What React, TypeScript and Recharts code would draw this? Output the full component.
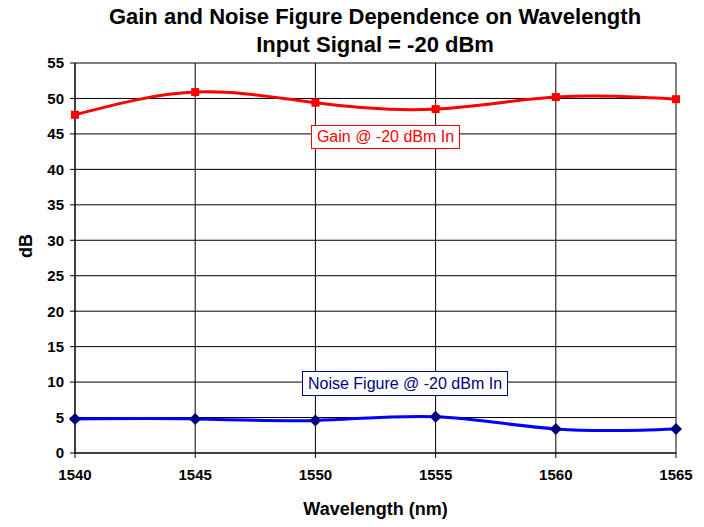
import { LineChart, Line, XAxis, YAxis, CartesianGrid } from 'recharts';

const wavelengths = [1540, 1545, 1550, 1555, 1560, 1565];
const gainValues = [47.7, 50.9, 49.4, 48.5, 50.2, 49.9];
const noiseValues = [4.8, 4.8, 4.6, 5.1, 3.4, 3.4];
const yTicks = [0, 5, 10, 15, 20, 25, 30, 35, 40, 45, 50, 55];

const data = wavelengths.map((w, i) => ({
  wavelength: w,
  gain: gainValues[i],
  noise: noiseValues[i],
}));

const font = 'Arial, "Liberation Sans", sans-serif';

const SquareDot = (props: any) => {
  const { cx, cy, index } = props;
  return <rect key={`g${index}`} x={cx - 4} y={cy - 4} width={8} height={8} fill="#ff0000" />;
};

const DiamondDot = (props: any) => {
  const { cx, cy, index } = props;
  return (
    <path
      key={`n${index}`}
      d={`M${cx},${cy - 6} L${cx + 6},${cy} L${cx},${cy + 6} L${cx - 6},${cy} Z`}
      fill="#000080"
    />
  );
};

export default function App() {
  return (
    <div style={{ position: 'absolute', left: 0, top: 0, width: 704, height: 527, background: '#fff', fontFamily: font }}>
      <LineChart
        width={704}
        height={527}
        data={data}
        margin={{ top: 63, right: 28, bottom: 44, left: 20 }}
      >
        <CartesianGrid stroke="#000" strokeWidth={1} />
        <XAxis
          dataKey="wavelength"
          type="number"
          domain={[1540, 1565]}
          ticks={wavelengths}
          height={30}
          stroke="#000"
          tickSize={5}
          tick={{ fontSize: 15, fontWeight: 'bold', fill: '#000', fontFamily: font, dy: 9 }}
          label={{ value: 'Wavelength (nm)', position: 'insideBottom', offset: -32, fontSize: 18, fontWeight: 'bold', fill: '#000', fontFamily: font }}
        />
        <YAxis
          domain={[0, 55]}
          ticks={yTicks}
          width={55}
          stroke="#000"
          tickSize={5}
          interval={0}
          tick={{ fontSize: 15, fontWeight: 'bold', fill: '#000', fontFamily: font, dx: -4 }}
          label={{ value: 'dB', angle: -90, position: 'insideLeft', offset: 6, fontSize: 18, fontWeight: 'bold', fill: '#000', fontFamily: font }}
        />
        <Line
          type="natural"
          dataKey="gain"
          stroke="#ff0000"
          strokeWidth={3}
          dot={SquareDot}
          isAnimationActive={false}
        />
        <Line
          type="natural"
          dataKey="noise"
          stroke="#0000ff"
          strokeWidth={3}
          dot={DiamondDot}
          isAnimationActive={false}
        />
      </LineChart>
      <div style={{ position: 'absolute', left: 0, width: 750, top: 3, textAlign: 'center', fontWeight: 'bold', fontSize: 22, lineHeight: '28px' }}>
        Gain and Noise Figure Dependence on Wavelength
        <br />
        Input Signal = -20 dBm
      </div>
      <div style={{ position: 'absolute', left: 311, top: 125, width: 147, height: 22, border: '1px solid #ff0000', background: '#fff', color: '#ff0000', fontSize: 16, lineHeight: '22px', textAlign: 'center', whiteSpace: 'nowrap' }}>
        Gain @ -20 dBm In
      </div>
      <div style={{ position: 'absolute', left: 302, top: 371, width: 204, height: 23, border: '1px solid #000080', background: '#fff', color: '#000080', fontSize: 16, lineHeight: '23px', textAlign: 'center', whiteSpace: 'nowrap' }}>
        Noise Figure @ -20 dBm In
      </div>
    </div>
  );
}
